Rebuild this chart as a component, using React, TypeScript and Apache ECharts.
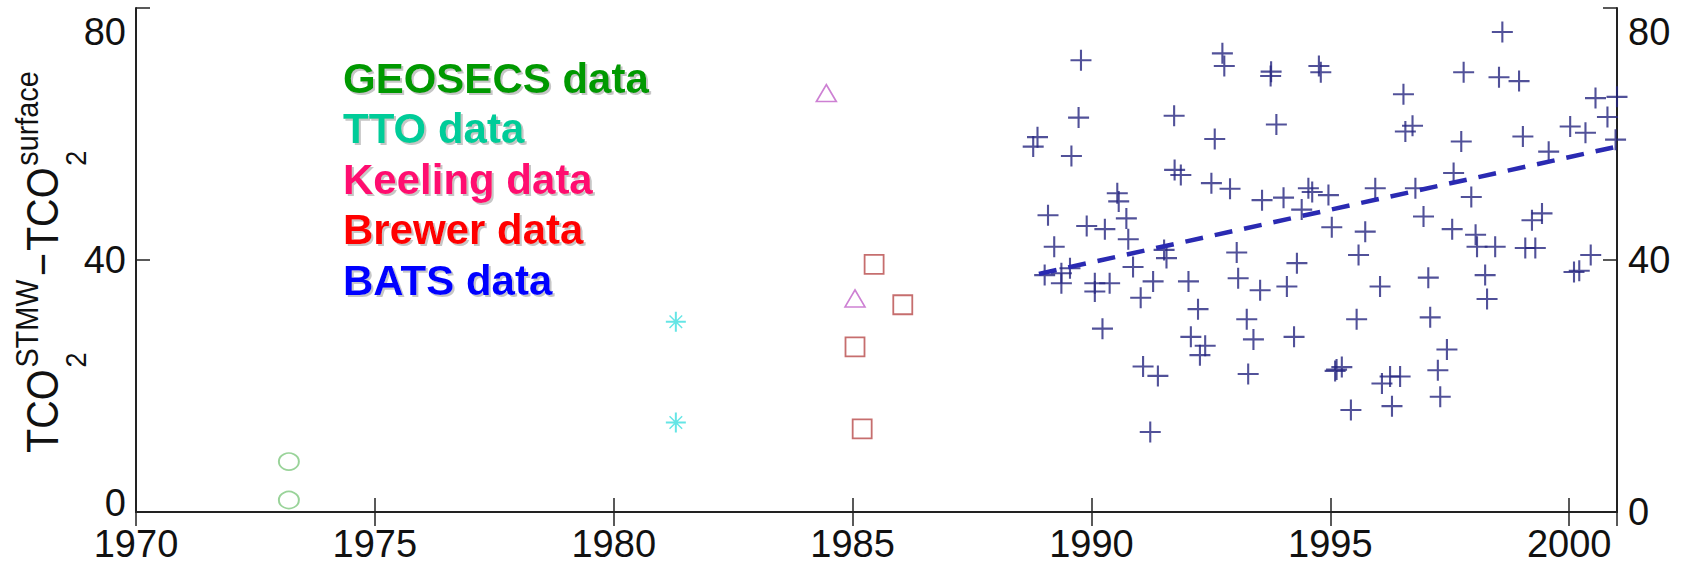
import React, { useEffect, useRef } from "react";
import * as echarts from "echarts";

// ---------- data ----------
const xTickLabels = [1970, 1975, 1980, 1985, 1990, 1995, 2000];
const yTickLabels = [0, 40, 80];

const geosecsYear = [1973.2, 1973.2];
const geosecsVal = [8.0, 1.9];

const ttoYear = [1981.3, 1981.3];
const ttoVal = [30.2, 14.2];

const keelingYear = [1985.05, 1984.45];
const keelingVal = [33.9, 66.5];

const brewerYear = [1985.45, 1986.05, 1985.05, 1985.2];
const brewerVal = [39.3, 32.9, 26.2, 13.2];

const batsYear = [
  1989.78, 1992.74, 1992.78, 1993.76, 1993.75, 1994.76, 1994.8, 1989.73, 1991.73, 1993.87,
  1988.87, 1988.78, 1989.58, 1992.58, 1991.74, 1991.87, 1992.51, 1992.9, 1990.54, 1990.57,
  1990.73, 1989.09, 1989.9, 1990.28, 1990.77, 1989.22, 1993.57, 1994.02, 1994.54, 1994.62,
  1994.96, 1994.4, 1995.03, 1991.52, 1991.57, 1990.87, 1993.04, 1994.3, 1989.02, 1989.37,
  1989.55, 1989.37, 1990.07, 1990.38, 1991.29, 1992.03, 1993.07, 1993.53, 1994.09, 1990.07,
  1991.03, 1992.23, 1993.25, 1990.23, 1992.08, 1992.38, 1992.27, 1993.39, 1994.24, 1991.08,
  1991.39, 1993.28, 1995.1, 1991.23, 1996.04, 1997.05, 1998.28, 1995.55, 1997.09, 1997.44,
  1995.13, 1995.24, 1996.08, 1996.25, 1996.46, 1997.25, 1997.3, 1995.43, 1996.29, 1998.6,
  1997.79, 1998.53, 1998.95, 1996.53, 2000.55, 2001.0, 2000.8, 1996.57, 1996.72, 1997.74,
  1999.03, 2000.02, 2000.34, 2000.97, 1999.57, 1997.58, 1995.94, 1996.78, 1997.95, 1999.43,
  1999.22, 1996.95, 1995.73, 1997.55, 1998.04, 1998.07, 1998.45, 1999.08, 1999.29, 1995.59,
  2000.45, 2000.1, 2000.21, 1998.24,
];
const batsVal = [
  71.7, 72.8, 70.8, 69.9, 69.2, 70.8, 69.8, 62.6, 62.9, 61.5,
  59.5, 58.0, 56.5, 59.2, 54.3, 53.5, 52.2, 51.3, 50.6, 49.3,
  46.6, 47.1, 45.4, 44.9, 43.3, 42.1, 49.5, 49.9, 51.4, 50.8,
  50.3, 48.0, 45.2, 41.6, 40.3, 38.9, 41.2, 39.5, 37.6, 37.9,
  38.7, 36.3, 36.3, 36.3, 36.6, 36.6, 37.1, 35.2, 35.8, 35.0,
  34.0, 32.2, 30.6, 29.1, 27.8, 26.4, 24.9, 27.4, 27.8, 23.1,
  21.6, 21.9, 22.4, 12.7, 35.8, 37.2, 33.8, 30.6, 30.9, 25.8,
  22.6, 23.0, 20.4, 21.5, 21.5, 22.5, 18.3, 16.2, 16.8, 76.2,
  69.8, 69.0, 68.4, 66.3, 65.7, 65.9, 62.7, 60.4, 61.3, 58.8,
  59.6, 61.2, 60.2, 59.1, 57.2, 53.8, 51.4, 51.4, 50.0, 47.4,
  46.3, 46.9, 44.5, 44.9, 44.0, 42.1, 42.1, 41.9, 41.9, 40.8,
  40.8, 38.1, 38.3, 37.6,
];

const trendYear = [1988.9, 2001.0];
const trendVal = [37.8, 58.0];

const legendLabels = ["GEOSECS data", "TTO data", "Keeling data", "Brewer data", "BATS data"];
const legendColors = ["#009900", "#00cc99", "#ff0a70", "#ff0000", "#0000ff"];

const yTitleParts = ["TCO", "2", "STMW", "\u2212", "TCO", "2", "surface"];

// ---------- helpers ----------
const FONT = '"Liberation Sans", Arial, Helvetica, sans-serif';
const zip = (xs: number[], ys: number[]) => xs.map((x, i) => [x, ys[i]]);

const PLUS = "path://M9,0h2v20h-2z M0,9h20v2h-20z";
const STAR =
  "path://M9,0h2v20h-2z M0,9h20v2h-20z M4.2,3.2L16.8,15.8L15.8,16.8L3.2,4.2z M15.8,3.2L16.8,4.2L4.2,16.8L3.2,15.8z";

function buildYTitle() {
  const ctx = document.createElement("canvas").getContext("2d")!;
  const w = (t: string, size: number) => {
    ctx.font = `${size}px ${FONT}`;
    return ctx.measureText(t).width;
  };
  const main = 44, sub = 30, sup = 32;
  const mainY = -15.5, subY = 17, supY = -31.5;
  const els: any[] = [];
  const push = (text: string, size: number, x: number, y: number) =>
    els.push({
      type: "text",
      x,
      y,
      style: { text, font: `${size}px ${FONT}`, fill: "#111", align: "left", verticalAlign: "middle" },
    });
  const [t1, s1, p1, dash, t2, s2, p2] = yTitleParts;
  let cx = 0;
  push(t1, main, cx, mainY);
  cx += w(t1, main) + 2;
  push(s1, sub, cx, subY);
  push(p1, sup, cx, supY);
  cx += Math.max(w(s1, sub), w(p1, sup)) + 4;
  push(dash, main, cx, mainY);
  cx += w(dash, main) + 2;
  push(t2, main, cx, mainY);
  cx += w(t2, main) + 2;
  push(s2, sub, cx, subY);
  push(p2, sup, cx, supY);
  return {
    type: "group",
    x: 58,
    y: 453,
    rotation: Math.PI / 2,
    scaleX: 0.9,
    children: els,
  };
}

export default function App() {
  const ref = useRef<HTMLDivElement>(null);

  useEffect(() => {
    if (!ref.current) return;
    const chart = echarts.init(ref.current, undefined, { renderer: "svg" });

    const richBase = { fontSize: 38, fontFamily: FONT, color: "#111", lineHeight: 28 };
    const makeYLabel = (lift0: boolean, margin: number) => ({
      fontSize: 38,
      fontFamily: FONT,
      color: "#111",
      margin,
      lineHeight: 28,
      formatter: (v: number) => {
        if (!yTickLabels.includes(v)) return "";
        if (v === 80) return `{low|${v}}`;
        if (v === 0 && lift0) return `{up|${v}}`;
        return `{n|${v}}`;
      },
      rich: {
        n: { ...richBase },
        low: { ...richBase, padding: [48, 0, 0, 0] },
        up: { ...richBase, padding: [0, 0, 18, 0] },
      },
    });
    const axisLine = { show: true, lineStyle: { color: "#222", width: 2 } };
    const axisTick = { show: true, inside: true, length: 14, lineStyle: { color: "#222", width: 1.5 } };

    const legendEls = legendLabels.map((t, i) => ({
      type: "text",
      x: 343,
      y: 78 + i * 50.5,
      z: 100,
      style: {
        text: t,
        font: `bold 42px ${FONT}`,
        fill: legendColors[i],
        align: "left",
        verticalAlign: "middle",
        textShadowColor: "rgba(150,150,150,0.55)",
        textShadowOffsetX: 2,
        textShadowOffsetY: 2,
        textShadowBlur: 1,
      },
    }));

    chart.setOption({
      animation: false,
      backgroundColor: "#fff",
      grid: { left: 136, right: 70, top: 8, bottom: 52, containLabel: false, outerBoundsMode: "none" },
      xAxis: [
        {
          type: "value",
          min: 1970,
          max: 2001,
          interval: 5,
          position: "bottom",
          splitLine: { show: false },
          axisLine,
          axisTick,
          axisLabel: {
            fontSize: 38,
            fontFamily: FONT,
            color: "#111",
            lineHeight: 28,
            margin: 18,
            formatter: (v: number) => (xTickLabels.includes(v) ? String(v) : ""),
          },
        },
        {
          type: "value",
          min: 1970,
          max: 2001,
          interval: 5,
          position: "top",
          splitLine: { show: false },
          axisLine,
          axisTick,
          axisLabel: { show: false },
        },
      ],
      yAxis: [
        {
          type: "value",
          min: 0,
          max: 80,
          interval: 40,
          position: "left",
          splitLine: { show: false },
          axisLine,
          axisTick,
          axisLabel: makeYLabel(true, 10),
        },
        {
          type: "value",
          min: 0,
          max: 80,
          interval: 40,
          position: "right",
          splitLine: { show: false },
          axisLine,
          axisTick,
          axisLabel: makeYLabel(false, 11),
        },
      ],
      series: [
        {
          name: "GEOSECS",
          type: "scatter",
          data: zip(geosecsYear, geosecsVal),
          symbol: "circle",
          symbolSize: [20, 17],
          itemStyle: { color: "rgba(0,0,0,0)", borderColor: "#80c880", borderWidth: 1.8 },
        },
        {
          name: "TTO",
          type: "scatter",
          data: zip(ttoYear, ttoVal),
          symbol: STAR,
          symbolSize: 20,
          itemStyle: { color: "#3fdede" },
        },
        {
          name: "Keeling",
          type: "scatter",
          data: zip(keelingYear, keelingVal),
          symbol: "triangle",
          symbolSize: [20, 17],
          itemStyle: { color: "rgba(0,0,0,0)", borderColor: "#c060c8", borderWidth: 1.6 },
        },
        {
          name: "Brewer",
          type: "scatter",
          data: zip(brewerYear, brewerVal),
          symbol: "rect",
          symbolSize: 19,
          itemStyle: { color: "rgba(0,0,0,0)", borderColor: "#b84a4a", borderWidth: 1.8 },
        },
        {
          name: "BATS",
          type: "scatter",
          data: zip(batsYear, batsVal),
          symbol: PLUS,
          symbolSize: 21,
          itemStyle: { color: "#25257f" },
        },
        {
          name: "trend",
          type: "line",
          data: zip(trendYear, trendVal),
          showSymbol: false,
          symbol: "none",
          lineStyle: { color: "#2a2ab2", width: 4.5, type: [18, 12] },
          z: 5,
        },
      ],
      graphic: [buildYTitle(), ...legendEls],
    });

    return () => chart.dispose();
  }, []);

  return (
    <div
      ref={ref}
      style={{ position: "absolute", left: 0, top: 0, width: 1687, height: 564, background: "#fff" }}
    />
  );
}
